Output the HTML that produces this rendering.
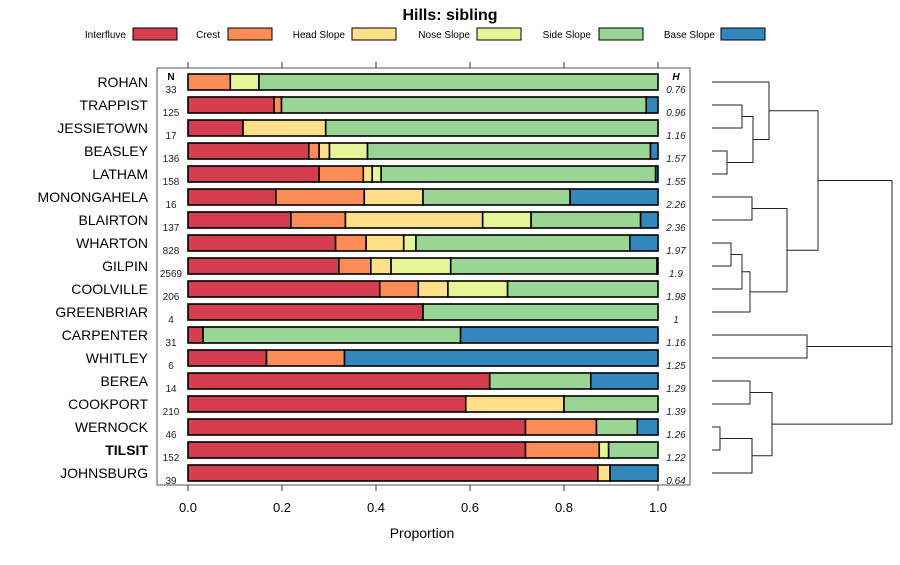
<!DOCTYPE html>
<html><head><meta charset="utf-8"><style>
body{margin:0;background:#fff;}
svg text{font-family:"Liberation Sans",sans-serif;}
</style></head><body>
<svg id="c" width="900" height="560" xmlns="http://www.w3.org/2000/svg">
<text x="450" y="20" text-anchor="middle" font-size="16" font-weight="bold">Hills: sibling</text>
<g id="legend"></g>
<rect x="157" y="68" width="533" height="417" fill="none" stroke="#555" stroke-width="1"/>
<g id="bars"></g>
<g id="axis"></g>
<g id="dend"></g>
<text x="422" y="538" text-anchor="middle" font-size="14">Proportion</text>
</svg>
<script>
const series = ["Interfluve","Crest","Head Slope","Nose Slope","Side Slope","Base Slope"];
const colors = ["#D53E4F","#FC8D59","#FEE08B","#E6F598","#99D594","#3288BD"];
const names = ["ROHAN","TRAPPIST","JESSIETOWN","BEASLEY","LATHAM","MONONGAHELA","BLAIRTON","WHARTON","GILPIN","COOLVILLE","GREENBRIAR","CARPENTER","WHITLEY","BEREA","COOKPORT","WERNOCK","TILSIT","JOHNSBURG"];
const nvals = ["33","125","17","136","158","16","137","828","2569","206","4","31","6","14","210","46","152","39"];
const hvals = ["0.76","0.96","1.16","1.57","1.55","2.26","2.36","1.97","1.9","1.98","1","1.16","1.25","1.29","1.39","1.26","1.22","0.64"];
const interfluve = [0,0.183,0.117,0.257,0.279,0.187,0.219,0.314,0.321,0.408,0.5,0.032,0.167,0.642,0.591,0.718,0.718,0.872];
const crest = [0.09,0.016,0,0.022,0.094,0.188,0.116,0.065,0.068,0.082,0,0,0.166,0,0,0.151,0.157,0];
const headSlope = [0,0,0.176,0.022,0.019,0.125,0.292,0.08,0.043,0.063,0,0,0,0,0.209,0,0,0.026];
const noseSlope = [0.061,0,0,0.081,0.019,0,0.103,0.026,0.127,0.127,0,0,0,0,0,0,0.02,0];
const sideSlope = [0.849,0.776,0.707,0.602,0.584,0.313,0.233,0.455,0.439,0.32,0.5,0.548,0,0.215,0.2,0.087,0.105,0];
const baseSlope = [0,0.025,0,0.016,0.005,0.187,0.037,0.06,0.002,0,0,0.42,0.667,0.143,0,0.044,0,0.102];
const xTicks = [0,0.2,0.4,0.6,0.8,1.0];
const xTickLabels = ["0.0","0.2","0.4","0.6","0.8","1.0"];
// dendrogram merges: [childA, childB, height]; negative = leaf index (-(i+1)), positive = merge index+1
const merges = [[-4,-5,727],[-2,-3,742],[2,1,753],[-1,3,769],[-8,-9,731],[5,-10,742],[6,-11,750],[-6,-7,752],[8,7,787],[4,9,818],[-12,-13,807],[-16,-17,720],[-14,-15,750],[12,-18,752],[13,14,772],[15,11,892],[10,16,892]];

const NS="http://www.w3.org/2000/svg";
function mk(tag,attrs,parent,text){const e=document.createElementNS(NS,tag);for(const k in attrs)e.setAttribute(k,attrs[k]);if(text!==undefined)e.textContent=text;parent.appendChild(e);return e;}
const X=v=>188+v*470;
const Y=i=>82+i*23;
const data=[interfluve,crest,headSlope,noseSlope,sideSlope,baseSlope];

// legend
const lg=document.getElementById('legend');
const lgText=[126,220,345,470,591,715], lgRect=[133,228,352,477,599,721];
series.forEach((s,k)=>{
  const t=mk('text',{x:lgText[k],y:38,'text-anchor':'end','font-size':10},lg,s);
  
  
  const r=mk('rect',{x:lgRect[k],y:28,width:44,height:12,fill:colors[k],stroke:'#000','stroke-width':1},lg);
  
  
});

const bars=document.getElementById('bars');
let t=mk('text',{x:171,y:80,'text-anchor':'middle','font-size':10,'font-weight':'bold'},bars,'N');


t=mk('text',{x:676,y:80,'text-anchor':'middle','font-size':10,'font-weight':'bold','font-style':'italic'},bars,'H');


names.forEach((n,i)=>{
  const y=Y(i);
  const nl=mk('text',{x:148,y:y+5,'text-anchor':'end','font-size':14,'font-weight':n==='TILSIT'?'bold':'normal'},bars,n);
  
  
  const nv=mk('text',{x:171,y:y+11,'text-anchor':'middle','font-size':10,fill:'#222'},bars,nvals[i]);
  
  
  const hv=mk('text',{x:676,y:y+11,'text-anchor':'middle','font-size':10,'font-style':'italic',fill:'#222'},bars,hvals[i]);
  
  
  let acc=0;
  data.forEach((arr,k)=>{
    const v=arr[i]; if(v<=0){return;}
    const r=mk('rect',{x:X(acc),y:y-8,width:X(acc+v)-X(acc),height:16,fill:colors[k],stroke:'#000','stroke-width':1.6},bars);
    
    
    acc+=v;
  });
});

const ax=document.getElementById('axis');
xTicks.forEach((v,k)=>{
  const l1=mk('line',{x1:X(v),x2:X(v),y1:485,y2:491,stroke:'#333'},ax);
  
  
  const l2=mk('line',{x1:X(v),x2:X(v),y1:62,y2:68,stroke:'#333'},ax);
  
  
  const tl=mk('text',{x:X(v),y:512,'text-anchor':'middle','font-size':13},ax,xTickLabels[k]);
  
  
});

// dendrogram
const dg=document.getElementById('dend');
const nodes=[];
function pos(c){return c<0?{x:712,y:Y(-c-1)}:nodes[c-1];}
merges.forEach(m=>{
  const a=pos(m[0]),b=pos(m[1]),h=m[2];
  const p=mk('path',{d:`M${a.x},${a.y}H${h}V${b.y}H${b.x}`,fill:'none',stroke:'#222','stroke-width':1},dg);
  
  
  nodes.push({x:h,y:(a.y+b.y)/2});
});
</script>
</body></html>
